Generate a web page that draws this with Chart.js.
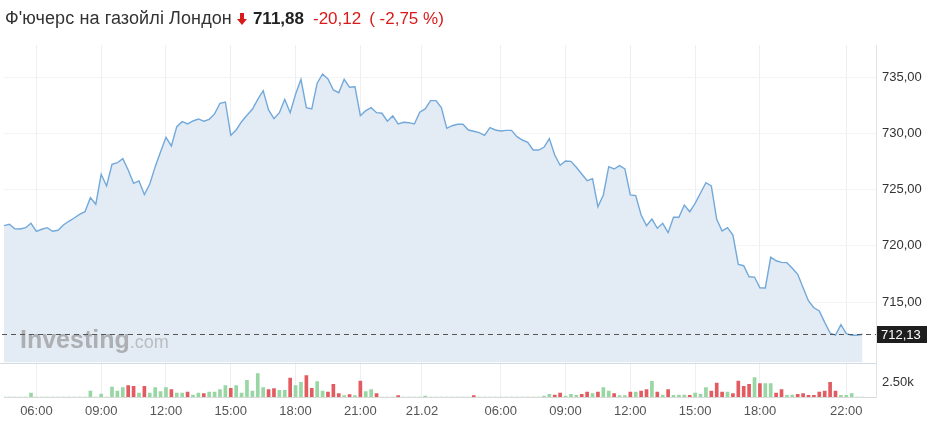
<!DOCTYPE html>
<html><head><meta charset="utf-8">
<script src="https://cdn.jsdelivr.net/npm/chart.js@4"></script>
<style>
html,body{margin:0;padding:0;background:#fff;}
#wrap{position:relative;width:936px;height:432px;overflow:hidden;}
#c{position:absolute;left:0;top:0;}
#title{position:absolute;left:5px;top:8px;font-family:"Liberation Sans",Arial,sans-serif;font-size:17px;color:#333;white-space:nowrap;display:flex;align-items:center;z-index:2;}
#title .name{font-size:18px;letter-spacing:0.1px;}
#title .arrow{margin:0 6px 0 5px;display:inline-block;}
#title .last{font-weight:bold;color:#222;margin-right:9px;}
#title .chg{color:#d91a1a;margin-right:8px;}
#title .pct{color:#d91a1a;}
</style></head>
<body>
<div id="wrap">
  <div id="title"><span class="name">Ф'ючерс на газойлі Лондон</span><svg class="arrow" width="10" height="12" viewBox="0 0 10 12"><path d="M3 0h4v6h3l-5 6-5-6h3z" fill="#d91a1a"/></svg><span class="last">711,88</span><span class="chg">-20,12</span><span class="pct">( -2,75 %)</span></div>
  <canvas id="c" width="936" height="432"></canvas>
</div>
<script>
// ---- data (15-minute points) ----
const prices = [
721.79,721.91,721.52,721.49,721.61,722.00,721.29,721.47,721.61,721.29,
721.38,721.85,722.18,722.47,722.80,723.03,724.28,723.69,726.36,725.32,
727.25,727.39,727.75,726.74,725.56,725.77,724.55,725.50,727.04,728.37,
729.65,728.88,730.60,731.04,730.84,731.10,731.28,731.08,731.25,731.73,
732.68,732.79,729.83,730.30,731.04,731.61,732.14,733.03,733.80,732.08,
731.31,731.84,733.03,731.84,733.48,734.81,732.29,732.17,734.46,735.28,
734.84,733.86,733.62,734.81,734.10,734.15,731.57,732.02,732.29,731.84,
731.79,731.08,731.55,730.84,730.99,730.95,730.84,731.88,732.17,732.91,
732.91,732.29,730.45,730.68,730.81,730.81,730.30,730.19,730.06,729.83,
730.51,730.30,730.21,730.27,730.27,729.71,729.41,729.21,728.52,728.52,
728.76,729.53,728.08,727.16,727.54,727.51,726.98,726.39,725.79,725.97,
723.48,724.52,727.04,726.83,727.13,726.83,724.52,724.46,722.74,721.79,
722.38,721.56,722.00,721.17,722.54,722.54,723.63,723.03,723.78,724.70,
725.61,725.32,722.36,721.32,721.61,720.96,718.35,718.23,717.25,717.22,
716.27,716.25,718.98,718.67,718.53,718.50,718.00,717.46,716.27,715.09,
714.49,714.20,713.19,712.24,712.06,712.98,712.18,712.04,712.04,712.13
];
const volumes = [
0,0,0,0,0,670,0,0,0,0,
0,0,0,0,0,0,1000,0,500,0,
1670,1000,1560,1890,1780,670,1780,670,1560,890,
1560,1220,670,670,830,330,670,560,830,830,
1220,1890,1440,1890,670,2780,1000,3890,1560,1220,
1390,1110,1110,3170,1890,2440,3560,1440,2560,1000,
830,2110,560,220,390,220,2670,890,1220,560,
0,0,0,220,0,0,0,0,170,0,
0,0,0,0,0,0,0,220,0,0,
0,0,0,0,0,0,0,0,0,0,
170,440,330,670,150,440,280,440,830,560,
830,1560,1000,560,220,220,830,830,1000,1220,
2610,830,330,1220,280,330,330,280,670,440,
1560,1000,2330,830,830,560,2670,1780,2110,3220,
2220,2220,2220,670,1220,280,330,440,560,280,
280,830,1000,2440,1000,280,280,560,0,0
];
// 1 = up (green), -1 = down (red)
const volumeDir = [
0,0,0,0,0,1,0,0,0,0,
0,0,0,0,0,0,1,0,1,0,
1,1,1,-1,-1,1,-1,1,1,1,
1,-1,1,1,-1,1,1,-1,1,1,
1,1,-1,1,1,1,1,1,1,-1,
-1,1,1,-1,1,1,-1,-1,1,1,
-1,-1,-1,1,-1,1,-1,1,1,-1,
0,0,0,-1,0,0,0,0,1,0,
0,0,0,0,0,0,0,-1,0,0,
0,0,0,0,0,0,0,0,0,0,
1,1,-1,-1,1,1,1,-1,-1,1,
-1,1,1,-1,1,1,-1,1,-1,-1,
1,-1,1,-1,1,1,1,-1,1,1,
1,-1,-1,-1,1,-1,-1,-1,-1,1,
-1,1,1,-1,-1,1,1,-1,-1,-1,
-1,-1,-1,-1,-1,1,1,1,0,0
];
const xTickPos  = [6, 18, 30, 42, 54, 66, 77.4, 92, 104, 116, 128, 140, 156];
const xTickText = ['06:00','09:00','12:00','15:00','18:00','21:00','21.02','06:00','09:00','12:00','15:00','18:00','22:00'];
const priceTicks = [715, 720, 725, 730, 735];
const volumeTicks = [2500];
const lastPrice = 712.13;

// ---- chart ----
const FONT = '"Liberation Sans", Arial, sans-serif';
const lineData = prices.map((p, i) => ({x: i, y: p}));
const volData = volumes.map((v, i) => ({x: i, y: v}));
const volColors = volumeDir.map(d => d < 0 ? '#e25b60' : '#98d6a4');

const extras = {
  id: 'extras',
  afterDatasetsDraw(chart) {
    const ctx = chart.ctx, ca = chart.chartArea;
    const ys = chart.scales.y;
    ctx.save();
    // panel separator
    ctx.strokeStyle = '#d3dbe3';
    ctx.lineWidth = 1;
    ctx.beginPath();
    ctx.moveTo(ca.left - 4, Math.round(ys.bottom) + 0.5);
    ctx.lineTo(ca.right, Math.round(ys.bottom) + 0.5);
    ctx.stroke();
    // watermark
    ctx.textBaseline = 'alphabetic';
    ctx.fillStyle = 'rgba(150,150,150,0.7)';
    ctx.font = 'bold 25px ' + FONT;
    const wx = 20, wy = 348;
    ctx.fillText('Investing', wx, wy);
    const w1 = ctx.measureText('Investing').width;
    ctx.fillStyle = 'rgba(165,165,165,0.65)';
    ctx.font = '18px ' + FONT;
    ctx.fillText('.com', wx + w1, wy);
    // last price dashed line
    const py = Math.round(ys.getPixelForValue(lastPrice)) + 0.5;
    ctx.strokeStyle = '#555';
    ctx.setLineDash([5, 4]);
    ctx.beginPath();
    ctx.moveTo(2, py);
    ctx.lineTo(ca.right, py);
    ctx.stroke();
    ctx.setLineDash([]);
    // last price label
    ctx.fillStyle = '#1e1e1e';
    ctx.fillRect(ca.right + 1, py - 8.5, 50, 17);
    ctx.fillStyle = '#fff';
    ctx.font = '13px ' + FONT;
    ctx.textBaseline = 'middle';
    ctx.fillText(lastPrice.toFixed(2).replace('.', ','), ca.right + 5, py + 0.5);
    ctx.restore();
  }
};

new Chart(document.getElementById('c'), {
  data: {
    datasets: [
      {
        type: 'line', data: lineData, yAxisID: 'y', xAxisID: 'x',
        borderColor: '#72a9da', borderWidth: 1.4, backgroundColor: '#e3ecf4',
        fill: 'start', pointRadius: 0, tension: 0, order: 1
      },
      {
        type: 'bar', data: volData, yAxisID: 'yv', xAxisID: 'x',
        backgroundColor: volColors, barThickness: 3, order: 2
      }
    ]
  },
  options: {
    responsive: false, animation: false, events: [],
    layout: {padding: {left: 4, top: 45, right: 0, bottom: 0}},
    plugins: {legend: {display: false}, tooltip: {enabled: false}},
    scales: {
      x: {
        type: 'linear', min: 0, max: 161.5, offset: false,
        afterBuildTicks: s => { s.ticks = xTickPos.map(v => ({value: v})); },
        afterFit: s => { s.height = 35; },
        ticks: {
          callback: (v, i) => xTickText[i],
          autoSkip: false, maxRotation: 0, padding: 7,
          color: '#555', font: {family: FONT, size: 13}
        },
        grid: {color: '#edf0f3', drawTicks: false, offset: false},
        border: {display: true, color: '#d9d9d9'}
      },
      y: {
        type: 'linear', position: 'right', stack: 'panes', stackWeight: 317.5,
        min: 709.62, max: 737.86,
        afterBuildTicks: s => { s.ticks = priceTicks.map(v => ({value: v})); },
        afterFit: s => { s.width = 60; },
        ticks: {
          callback: v => v.toFixed(2).replace('.', ','),
          padding: 6, color: '#333', font: {family: FONT, size: 13}
        },
        grid: {color: '#f3f4f6', drawTicks: false},
        border: {display: true, color: '#e2e2e2'}
      },
      yv: {
        type: 'linear', position: 'right', stack: 'panes', stackWeight: 34.5,
        min: 0, max: 5750,
        afterBuildTicks: s => { s.ticks = volumeTicks.map(v => ({value: v})); },
        afterFit: s => { s.width = 60; },
        ticks: {
          callback: v => (v / 1000).toFixed(2) + 'k',
          padding: 6, color: '#333', font: {family: FONT, size: 13}
        },
        grid: {display: false, drawTicks: false},
        border: {display: true, color: '#e2e2e2'}
      }
    }
  },
  plugins: [extras]
});
</script>
</body></html>
